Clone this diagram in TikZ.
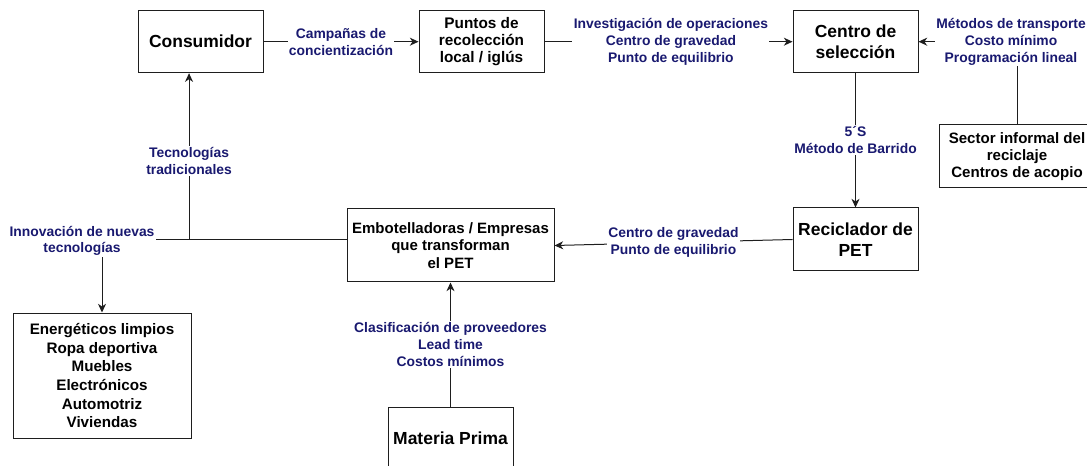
\documentclass[tikz,border=0pt]{standalone}
\usepackage{fontspec}
\setmainfont{Liberation Sans}
\usepackage{tikz}
\usetikzlibrary{arrows.meta}
\definecolor{lblblue}{RGB}{25,25,112}
\definecolor{boxline}{RGB}{30,30,30}
\tikzset{
  stage/.style={draw=boxline, line width=0.75pt, fill=white, align=center,
                inner sep=0pt, minimum width=93.75pt, minimum height=46.5pt},
  stage big/.style={stage, font=\fontsize{13.1}{15.5}\selectfont\bfseries},
  stage mid/.style={stage, font=\fontsize{11.4}{13.1}\selectfont\bfseries},
  method/.style={fill=white, text=lblblue, align=center, inner sep=1pt,
                 font=\fontsize{10.4}{12.6}\selectfont\bfseries},
  link/.style={draw=boxline, line width=0.75pt},
  flow/.style={link, -{Stealth[length=6.5pt,width=6pt,inset=2pt]}},
}

\begin{document}
\begin{tikzpicture}[x=0.75pt, y=-0.75pt]
% canvas of the drawing, in pixels
\useasboundingbox (0,0) rectangle (1087,466);
\clip (0,0) rectangle (1087,466);
% top row
\node[stage big] (consumidor) at (200.5,41.7) {Consumidor};
\node[stage mid, font=\fontsize{11.5}{12.8}\selectfont\bfseries] (puntos) at (481.5,41.7)
  {Puntos de\\recolección\\local / iglús};
\node[stage big] (seleccion) at (855.5,41.7) {Centro de\\selección};
\node[stage mid, minimum width=117pt, minimum height=47.25pt,
      font=\fontsize{11.3}{13}\selectfont\bfseries] (informal) at (1017,156.5)
  {Sector informal del\\reciclaje\\Centros de acopio};
% middle row
\node[stage big, minimum height=47.25pt] (reciclador) at (855.5,239.5) {Reciclador de\\PET};
\node[stage mid, minimum width=155.25pt, minimum height=54.75pt,
      font=\fontsize{11.25}{13.1}\selectfont\bfseries] (embotelladoras) at (450.5,245.5)
  {Embotelladoras / Empresas\\que transforman\\el PET};
% bottom row
\node[stage mid, minimum width=133.5pt, minimum height=93.75pt,
      font=\fontsize{11.4}{14}\selectfont\bfseries] (productos) at (102,375.5)
  {Energéticos limpios\\Ropa deportiva\\Muebles\\Electrónicos\\Automotriz\\Viviendas};
\node[stage big] (materia) at (450.5,438) {Materia Prima};

% connectors
\draw[flow] (consumidor) -- node[method] {Campañas de\\concientización} (puntos);
\draw[flow] (puntos) -- node[method, xshift=1.8pt] {Investigación de operaciones\\Centro de gravedad\\Punto de equilibrio} (seleccion);
\draw[flow] (informal.north) |- node[method, pos=0.5, xshift=-4.5pt]
  {Métodos de transporte\\Costo mínimo\\Programación lineal} (seleccion.east);
\draw[flow] (seleccion) -- node[method] {5´S\\Método de Barrido} (reciclador);
\draw[flow] (reciclador.west) -- node[method] {Centro de gravedad\\Punto de equilibrio} (embotelladoras.east);
\draw[flow] (materia) -- node[method] {Clasificación de proveedores\\Lead time\\Costos mínimos} (embotelladoras);
\draw[flow] ([yshift=4.5pt]embotelladoras.west) -| node[method, pos=0.735]
  {Tecnologías\\tradicionales} ([xshift=-8.6pt]consumidor.south);
\draw[flow] ([yshift=4.5pt]embotelladoras.west) -| node[method, pos=0.5, xshift=-15pt, yshift=-1.1pt]
  {Innovación de nuevas\\tecnologías} (productos.north);
\end{tikzpicture}
\end{document}
